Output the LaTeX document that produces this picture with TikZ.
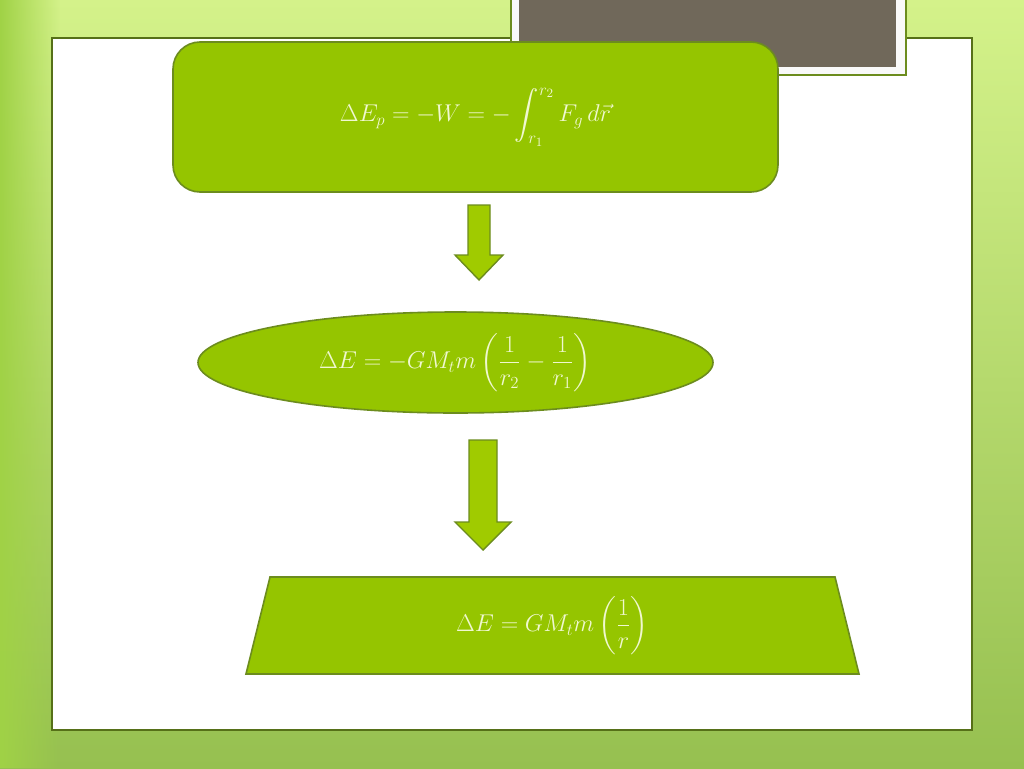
\documentclass[tikz,border=0pt]{standalone}
\usepackage{amsmath}
\usetikzlibrary{shapes.geometric, fadings}
\definecolor{boxgreen}{RGB}{149,197,0}
\definecolor{edgegreen}{RGB}{108,140,30}
\definecolor{textgreen}{RGB}{240,248,208}
\definecolor{slategray}{RGB}{112,104,90}
\definecolor{sidegreen}{RGB}{160,210,70}
\tikzset{
  eqbox/.style={draw=edgegreen, line width=0.4mm, fill=boxgreen, text=textgreen,
    inner sep=0pt, font=\fontsize{18}{22}\selectfont},
  eqtext/.style={text=textgreen, inner sep=0pt, font=\fontsize{18}{22}\selectfont},
  downarrow/.style={draw=edgegreen, line width=0.35mm, fill=boxgreen!90!yellow}
}
\begin{document}
\begin{tikzpicture}[x=0.25mm, y=-0.25mm]
    % Draw the slide background and the white panel
    \shade[top color={rgb,255:red,212;green,242;blue,138}, bottom color={rgb,255:red,150;green,192;blue,80}]
        (0,0) rectangle (1024,768);
    \fill[sidegreen, path fading=east] (0,0) rectangle (60,768);
    \useasboundingbox (0,0) rectangle (1024,768);
    \draw[edgegreen!80!black, line width=0.3mm, fill=white] (52,38) rectangle (972,730);

    % Draw the framed gray box at the top
    \draw[edgegreen, line width=0.4mm, fill=white!95!gray] (511,-2) rectangle (906,75);
    \fill[slategray] (519,-2) rectangle (896,67);

    % Draw the three equation shapes
    \node[eqbox, rounded corners=6.75mm, minimum width=151.25mm, minimum height=37.5mm]
        (work) at (475.5,117)
        {$\displaystyle \Delta E_p = -W = -\int_{r_1}^{r_2} F_g\, d\vec{r}$};
    \node[eqbox, ellipse, minimum width=128.75mm, minimum height=25.25mm]
        (diff) at (455.5,362.5)
        {$\displaystyle \Delta E = -GM_t m\left(\frac{1}{r_2}-\frac{1}{r_1}\right)$};
    \draw[edgegreen, line width=0.4mm, fill=boxgreen]
        (270,577) -- (835,577) -- (859,674) -- (246,674) -- cycle;
    \node[eqtext] (energy) at (552.5,625.5)
        {$\displaystyle \Delta E = GM_t m\left(\frac{1}{r}\right)$};

    % Draw the block arrows between the shapes
    \draw[downarrow] (468,205) -- (490,205) -- (490,255) -- (503,255) -- (479,280)
        -- (455,255) -- (468,255) -- cycle;
    \draw[downarrow] (469,440) -- (497,440) -- (497,522) -- (511,522) -- (483,550)
        -- (455,522) -- (469,522) -- cycle;
\end{tikzpicture}
\end{document}
